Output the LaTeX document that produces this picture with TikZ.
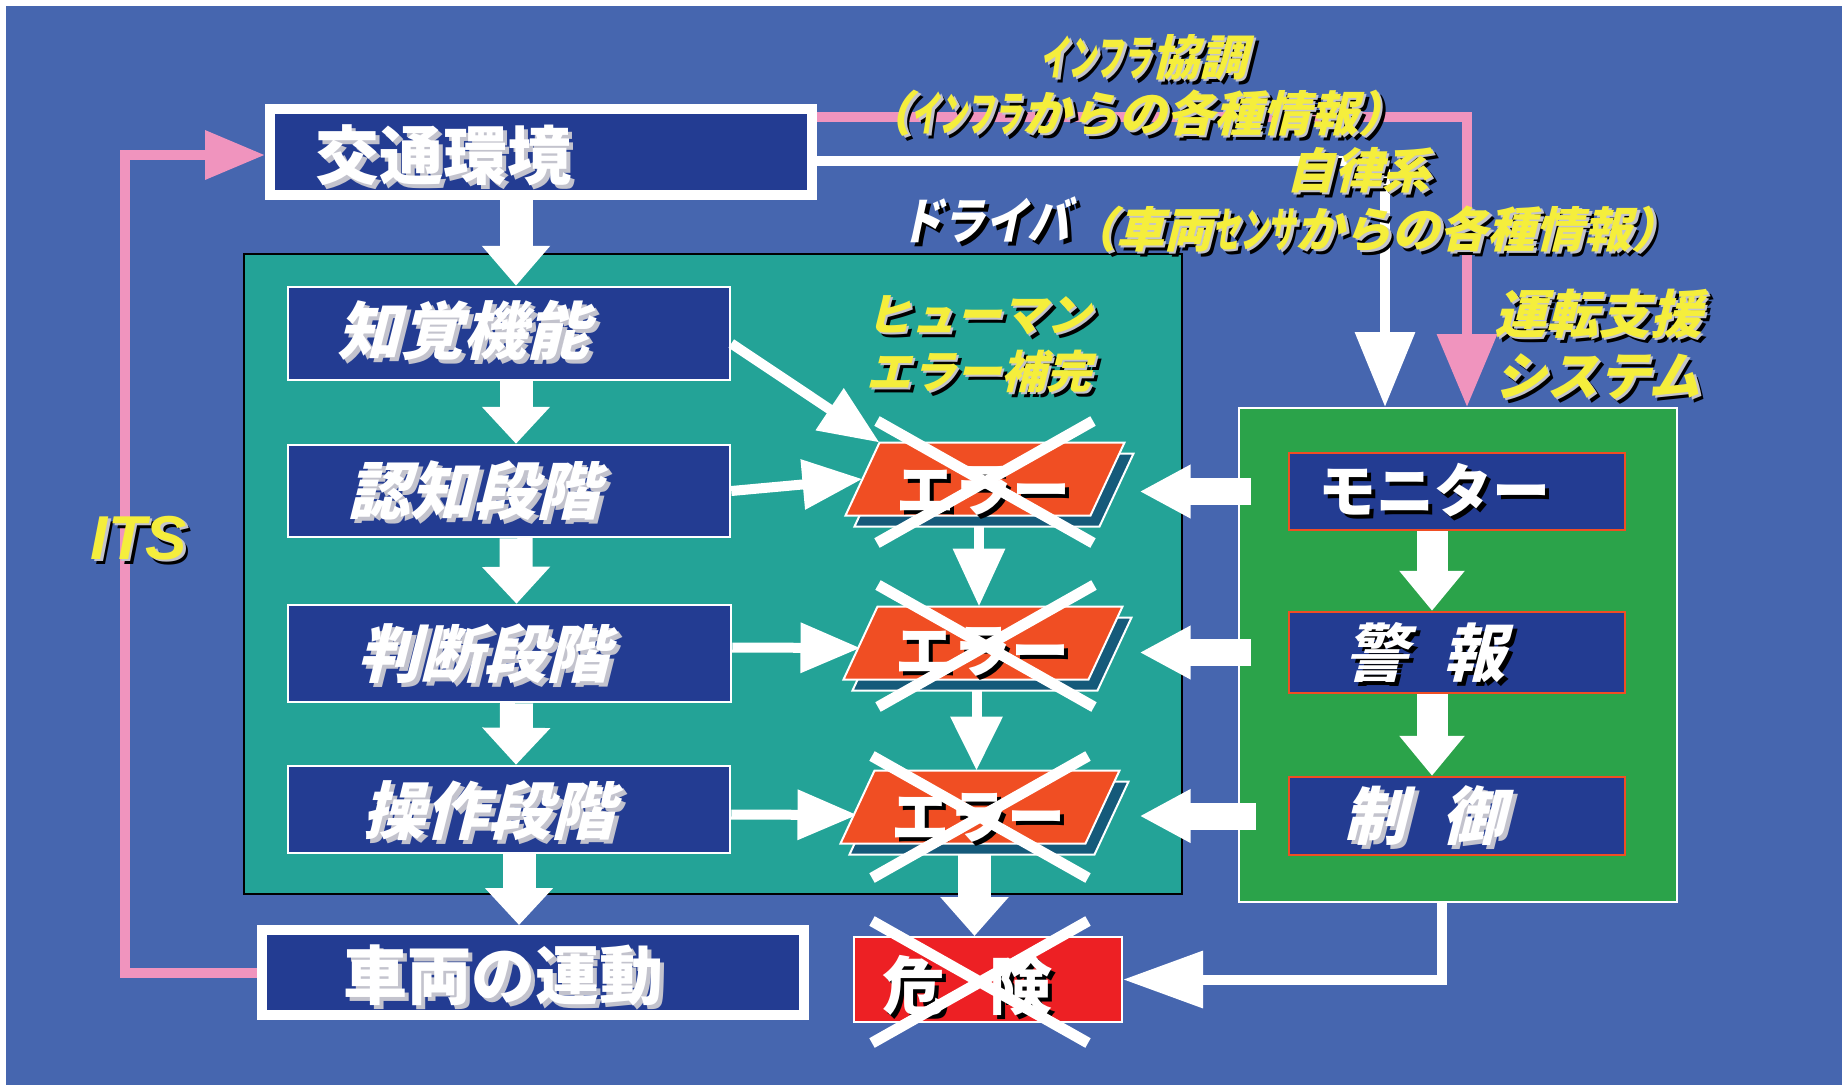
\documentclass[tikz,border=0pt]{standalone}
\usepackage{fontspec}
\usepackage{graphicx}
\setmainfont{Liberation Sans}
\newfontfamily\jp{Noto Sans CJK JP}
\newfontfamily\jpi{Noto Sans CJK JP}[FakeSlant=0.25]
\usetikzlibrary{arrows.meta,calc}
\definecolor{bgblue}{RGB}{70,102,175}
\definecolor{navy}{RGB}{35,60,146}
\definecolor{panelteal}{RGB}{35,163,151}
\definecolor{panelgreen}{RGB}{43,163,74}
\definecolor{errorange}{RGB}{240,78,35}
\definecolor{errshade}{RGB}{21,90,122}
\definecolor{dangerred}{RGB}{237,32,36}
\definecolor{itspink}{RGB}{240,148,190}
\definecolor{labyellow}{RGB}{245,238,60}
\definecolor{shgray}{RGB}{195,195,205}
\newcommand\shd[2]{\leavevmode\rlap{\smash{\kern4pt\raisebox{-4pt}{\color{#1}#2}}}#2}
\newcommand\ysh[1]{\leavevmode\rlap{\smash{\kern5pt\raisebox{-5pt}{\color{black}#1}}}\rlap{\smash{\kern2.5pt\raisebox{-2.5pt}{\color{shgray}#1}}}#1}
\newcommand\hw[1]{\scalebox{0.58}[1]{#1}}
\newcommand\errpara[1]{%
  \filldraw[fill=errshade,draw=white,line width=2pt]
    ($(#1.north west)+(26,11)$) -- ($(#1.north east)+(26,11)$) --
    ($(#1.south east)+(-8,11)$) -- ($(#1.south west)+(-8,11)$) -- cycle;
  \filldraw[fill=errorange,draw=white,line width=2pt]
    ($(#1.north west)+(17,0)$) -- ($(#1.north east)+(17,0)$) --
    ($(#1.south east)+(-17,0)$) -- ($(#1.south west)+(-17,0)$) -- cycle;}
\newcommand\xcross[1]{\draw[white,line width=11pt]
  ($(#1)+(-108,-61)$) -- ($(#1)+(108,61)$)
  ($(#1)+(108,-61)$) -- ($(#1)+(-108,61)$);}
\begin{document}
\begin{tikzpicture}[x=1pt,y=-1pt,
  box/.style={draw=white,fill=navy,line width=2.5pt,inner sep=0pt},
  bigbox/.style={draw=white,fill=navy,line width=10pt,inner sep=0pt},
  rbox/.style={draw=errorange,fill=navy,line width=2.5pt,inner sep=0pt},
  errnode/.style={inner sep=0pt,outer sep=0pt,minimum width=245pt,minimum height=73pt},
  wtxt/.style={inner sep=0pt,text=white},
  ytxt/.style={inner sep=0pt,text=labyellow},
  bigjp/.style={font=\jp\bfseries\fontsize{64}{70}\selectfont},
  itjp/.style={font=\jpi\bfseries\fontsize{63}{70}\selectfont},
  midjp/.style={font=\jp\bfseries\fontsize{58}{64}\selectfont},
  miditjp/.style={font=\jpi\bfseries\fontsize{63}{68}\selectfont},
  labjp/.style={font=\jpi\bfseries\fontsize{48}{56}\selectfont},
  fat/.style={draw=white,line width=33pt,-{Triangle[width=66pt,length=37pt]}},
  fatg/.style={draw=white,line width=31pt,-{Triangle[width=63pt,length=40pt]}},
  thin/.style={draw=white,line width=10pt,-{Triangle[width=48pt,length=60pt]}},
  side/.style={draw=white,line width=27pt,-{Triangle[width=50pt,length=51pt]}},
  pinkline/.style={draw=itspink,line width=10pt},
  whiteline/.style={draw=white,line width=10pt}
]
\useasboundingbox (0,0) rectangle (1842,1085);
\fill[white] (0,0) rectangle (1842,1085);
\fill[bgblue] (6,6) rectangle (1842,1085);

% panels
\node[draw=black,fill=panelteal,line width=2.5pt,minimum width=938pt,minimum height=640pt,inner sep=0pt] (drv) at (713,574) {};
\node[draw=white,fill=panelgreen,line width=2pt,minimum width=438pt,minimum height=494pt,inner sep=0pt] (green) at (1458,655) {};

% main boxes
\node[bigbox,minimum width=542pt,minimum height=86pt] (kotsu) at (541,152) {};
\node[wtxt,bigjp] (tkotsu) at (443,155) {\shd{shgray}{交通環境}};
\node[bigbox,minimum width=542pt,minimum height=85pt] (shado) at (533,972.5) {};
\node[wtxt,bigjp] (tshado) at (503,975) {\shd{shgray}{車両の運動}};

\node[box,minimum width=442pt,minimum height=93pt] (box1) at (509,333.5) {};
\node[wtxt,itjp] (t1) at (463,330) {\shd{shgray}{知覚機能}};
\node[box,minimum width=442pt,minimum height=92pt] (box2) at (509,491) {};
\node[wtxt,itjp] (t2) at (473,491) {\shd{shgray}{認知段階}};
\node[box,minimum width=443pt,minimum height=97pt] (box3) at (509.5,653.5) {};
\node[wtxt,itjp] (t3) at (483,654) {\shd{shgray}{判断段階}};
\node[box,minimum width=442pt,minimum height=87pt] (box4) at (509,809.5) {};
\node[wtxt,itjp] (t4) at (488,811) {\shd{shgray}{操作段階}};

\node[rbox,minimum width=336pt,minimum height=77pt] (mon) at (1457,491.5) {};
\node[wtxt,midjp] (tmon) at (1434,490) {\shd{black}{モニター}};
\node[rbox,minimum width=336pt,minimum height=81pt] (keiho) at (1457,652.5) {};
\node[wtxt,miditjp] (tkeiho) at (1425,653) {\shd{black}{警\hspace{0.55em}報}};
\node[rbox,minimum width=336pt,minimum height=78pt] (seigyo) at (1457,816) {};
\node[wtxt,miditjp] (tseigyo) at (1424,816) {\shd{shgray}{制\hspace{0.55em}御}};

\node[draw=white,fill=dangerred,line width=2pt,minimum width=268pt,minimum height=85pt,inner sep=0pt] (kiken) at (988,979.5) {};

% error anchors
\node[errnode] (e1) at (985,479) {};
\node[errnode] (e2) at (983,643) {};
\node[errnode] (e3) at (980,807) {};
\coordinate (e1r) at ($(e1.east)+(32,0)$);
\coordinate (e2r) at ($(e2.east)+(34,0)$);
\coordinate (e3r) at ($(e3.east)+(37,0)$);

% long lines
\draw[pinkline,-{Triangle[width=58pt,length=73pt]}] ($(kotsu.east)+(0,-35)$) -| ($(green.north)+(9,0)$);
\draw[whiteline,-{Triangle[width=58pt,length=75pt]}] ($(kotsu.east)+(0,9)$) -| ($(green.north)+(-73,0)$);
\draw[pinkline,-{Triangle[width=47pt,length=60pt]}] (shado.west) -- ++(-132,0) |- ($(kotsu.west)+(0,3)$);
\draw[whiteline,-{Triangle[width=55pt,length=80pt]}] ($(green.south)+(-16,0)$) |- (kiken.east);

% driver chain
\draw[fat,-{Triangle[width=66pt,length=40pt]}] ($(kotsu.south -| box1.north)+(7,0)$) -- ($(box1.north)+(7,0)$);
\draw[fat] ($(box1.south)+(7,0)$) -- ($(box2.north)+(7,0)$);
\draw[fat] ($(box2.south)+(7,0)$) -- ($(box3.north)+(7,0)$);
\draw[fat] ($(box3.south)+(7,0)$) -- ($(box4.north)+(7,0)$);
\draw[fat] ($(box4.south)+(10,0)$) -- ($(shado.north -| box4.south)+(10,0)$);

\draw[thin] ($(box1.east)+(0,10)$) -- ($(e1.north west)+(17,0)$);
\draw[thin] (box2.east) -- (e1.west);
\draw[thin] ($(box3.east)+(0,-6)$) -- ($(e2.west)+(0,5)$);
\draw[thin] ($(box4.east)+(0,5)$) -- ($(e3.west)+(0,8)$);

\draw[thin,-{Triangle[width=50pt,length=58pt]}] ($(e1.south)+(-6,6)$) -- ($(e2.north)+(-4,0)$);
\draw[thin,-{Triangle[width=50pt,length=54pt]}] ($(e2.south)+(-6.5,6)$) -- ($(e3.north)+(-3.5,0)$);
\draw[fat,-{Triangle[width=66pt,length=39pt]}] ($(e3.south)+(-5.5,6)$) -- ($(kiken.north)+(-13.5,0)$);

% support system
\draw[fatg] ($(mon.south)+(-25,0)$) -- ($(keiho.north)+(-25,0)$);
\draw[fatg] ($(keiho.south)+(-25,0)$) -- ($(seigyo.north)+(-25,0)$);
\draw[side] ($(green.west |- mon.west)+(13,0)$) -- (e1r |- mon.west);
\draw[side] ($(green.west |- keiho.west)+(13,0)$) -- (e2r |- keiho.west);
\draw[side] ($(green.west |- seigyo.west)+(18,0)$) -- (e3r |- seigyo.west);

% error parallelograms
\errpara{e1}
\errpara{e2}
\errpara{e3}
\node[wtxt,midjp] (te1) at ($(e1)+(-2,12)$) {\shd{black}{エラー}};
\node[wtxt,midjp] (te2) at ($(e2)+(-1,9)$) {\shd{black}{エラー}};
\node[wtxt,midjp] (te3) at ($(e3)+(-2,11)$) {\shd{black}{エラー}};
\node[wtxt,font=\jp\bfseries\fontsize{63}{68}\selectfont] (tkiken) at (968,986) {\shd{black}{危\hspace{0.7em}険}};

\xcross{985,482}
\xcross{986,646}
\xcross{980,817}
\xcross{980,982}

% labels
\node[ytxt,font=\bfseries\itshape\fontsize{62}{70}\selectfont] (its) at (139,538) {\ysh{ITS}};
\node[ytxt,labjp] (infra1) at (1144,57) {\ysh{\hw{インフラ}協調}};
\node[ytxt,labjp] (infra2) at (1135,113) {\ysh{（\hw{インフラ}からの各種情報）}};
\node[ytxt,labjp] (auto1) at (1358,170) {\ysh{自律系}};
\node[ytxt,labjp] (auto2) at (1374,229) {\ysh{（車両\hw{センサ}からの各種情報）}};
\node[wtxt,font=\jpi\bfseries\fontsize{50}{58}\selectfont] (driver) at (985,220) {\shd{black}{\scalebox{0.85}[1]{ドライバ}}};
\node[ytxt,font=\jpi\bfseries\fontsize{45}{57}\selectfont,align=left,anchor=west] (human) at (866,344) {\ysh{ヒューマン}\\\ysh{エラー補完}};
\node[ytxt,font=\jpi\bfseries\fontsize{52}{62}\selectfont,align=left,anchor=west] (shien) at (1494,344) {\ysh{運転支援}\\\ysh{システム}};
\end{tikzpicture}
\end{document}
